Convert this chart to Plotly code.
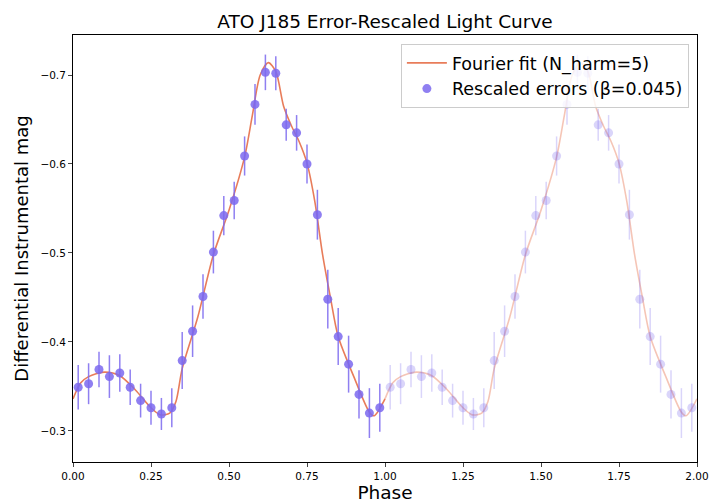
import numpy as np
import plotly.graph_objects as go

# Binned phase-folded data (30 bins)
phase = [(i + 0.5) / 30 for i in range(30)]
mag = [-0.349, -0.353, -0.369, -0.361, -0.365, -0.349, -0.334, -0.326, -0.319, -0.326,
       -0.379, -0.412, -0.451, -0.501, -0.542, -0.559, -0.609, -0.667, -0.703, -0.702,
       -0.644, -0.635, -0.600, -0.543, -0.448, -0.406, -0.375, -0.341, -0.320, -0.326]
err = [0.025, 0.023, 0.020, 0.024, 0.021, 0.020, 0.019, 0.019, 0.018, 0.022,
       0.032, 0.029, 0.025, 0.024, 0.022, 0.021, 0.022, 0.023, 0.020, 0.019,
       0.018, 0.020, 0.022, 0.028, 0.033, 0.032, 0.032, 0.027, 0.028, 0.027]

# Fourier-fit curve
fit_phase = [0.0, 0.025, 0.05, 0.1, 0.15, 0.2, 0.25, 0.28, 0.31, 0.33, 0.35, 0.4, 0.45,
             0.5, 0.55, 0.575, 0.6, 0.626, 0.65, 0.675, 0.7, 0.725, 0.75, 0.775, 0.8,
             0.825, 0.85, 0.9, 0.95, 0.965, 1.0]
fit_mag = [-0.336, -0.354, -0.361, -0.366, -0.362, -0.346, -0.326, -0.318, -0.320, -0.333,
           -0.370, -0.428, -0.498, -0.548, -0.608, -0.655, -0.700, -0.714, -0.704, -0.665,
           -0.643, -0.625, -0.601, -0.558, -0.498, -0.450, -0.406, -0.361, -0.321, -0.317,
           -0.336]

n_harm = 5
beta = 0.045
xticks = [0.0, 0.25, 0.5, 0.75, 1.0, 1.25, 1.5, 1.75, 2.0]
yticks = [-0.3, -0.4, -0.5, -0.6, -0.7]

ph = np.array(phase)
fph = np.array(fit_phase)

pt_col = "rgba(123,104,238,0.85)"
pt_col2 = "rgba(123,104,238,0.28)"
fig = go.Figure()
fig.add_trace(go.Scatter(x=fph + 1, y=fit_mag, mode="lines", showlegend=False,
                         line=dict(color="rgba(230,110,72,0.4)", width=1.6, shape="spline", smoothing=0.8)))
fig.add_trace(go.Scatter(x=ph + 1, y=mag, mode="markers", showlegend=False,
                         marker=dict(color=pt_col2, size=9),
                         error_y=dict(type="data", array=err, color=pt_col2, thickness=1.5, width=0)))
fig.add_trace(go.Scatter(x=fph, y=fit_mag, mode="lines", name=f"Fourier fit (N_harm={n_harm})",
                         line=dict(color="rgba(230,110,72,0.9)", width=1.6, shape="spline", smoothing=0.8)))
fig.add_trace(go.Scatter(x=ph, y=mag, mode="markers", name=f"Rescaled errors (β={beta})",
                         marker=dict(color=pt_col, size=9),
                         error_y=dict(type="data", array=err, color=pt_col, thickness=1.5, width=0)))

fig.update_layout(
    width=709, height=503,
    margin=dict(l=73, r=12, t=35, b=41),
    paper_bgcolor="white", plot_bgcolor="white",
    font=dict(family="DejaVu Sans", color="black"),
    title=dict(text="ATO J185 Error-Rescaled Light Curve", x=0.5, xref="paper", xanchor="center",
               y=0.958, yref="container", yanchor="middle", font=dict(size=18.5)),
    legend=dict(x=0.987, y=0.979, xanchor="right", yanchor="top",
                bgcolor="rgba(255,255,255,0.8)", bordercolor="#cccccc", borderwidth=1,
                font=dict(size=17.5), traceorder="normal", itemwidth=40),
    xaxis=dict(range=[0, 2], tickvals=xticks, ticktext=[f"{t:.2f}" for t in xticks],
               showline=True, linecolor="black", linewidth=1, mirror=True, automargin=False,
               ticks="outside", ticklen=4, tickfont=dict(size=10.5), showgrid=False, zeroline=False,
               title=dict(text="Phase", font=dict(size=18.5), standoff=4)),
    yaxis=dict(range=[-0.265, -0.745], tickvals=yticks,
               ticktext=[f"\u2212{abs(t):.1f}" for t in yticks],
               showline=True, linecolor="black", linewidth=1, mirror=True, automargin=False,
               ticks="outside", ticklen=4, tickfont=dict(size=10.5), showgrid=False, zeroline=False,
               title=dict(text="Differential Instrumental mag", font=dict(size=18), standoff=7)),
)
fig.write_html("out.html", config={"displayModeBar": False},
               post_script="document.body.style.margin='0';document.body.style.overflow='hidden';")
